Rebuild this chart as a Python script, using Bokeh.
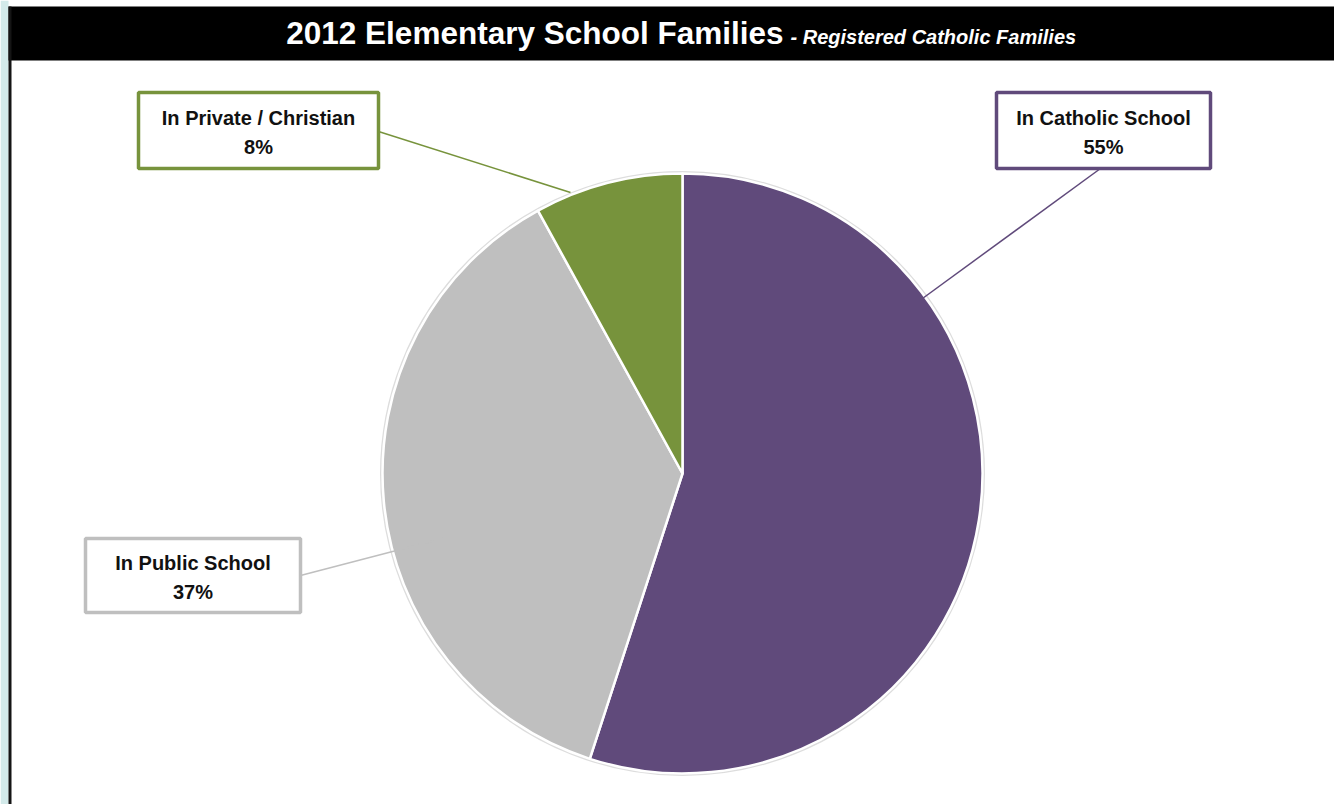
import numpy as np
from bokeh.plotting import figure
from bokeh.models import Range1d
from bokeh.core.properties import value
from bokeh.embed import file_html
from bokeh.resources import INLINE

# ---- data ----
categories = ["In Catholic School", "In Public School", "In Private / Christian"]
shares = [55, 37, 8]
pct_labels = ["55%", "37%", "8%"]
colors = ["#604A7B", "#BFBFBF", "#77933C"]
title_main = "2012 Elementary School Families"
title_sub = "- Registered Catholic Families"

# ---- layout ----
W, H = 1334, 804
FONT = "Liberation Sans"


def Y(py):
    return H - py


p = figure(width=W, height=H, x_range=Range1d(0, W), y_range=Range1d(0, H),
           output_backend="svg", toolbar_location=None, min_border=0)
p.axis.visible = False
p.grid.visible = False
p.outline_line_color = None
p.background_fill_color = "white"
p.border_fill_color = "white"

# page frame: cyan strip, black left border, title bar
p.quad(left=[0], right=[8], top=[Y(0)], bottom=[Y(H)], fill_color="#D3EAEA", line_color=None)
p.quad(left=[8], right=[W], top=[Y(6)], bottom=[Y(60)], fill_color="black", line_color=None)
p.quad(left=[8], right=[11], top=[Y(6)], bottom=[Y(H)], fill_color="#151515", line_color=None)
p.text(x=[783], y=[Y(32)], text=[title_main], text_color="white", text_font=value(FONT),
       text_font_style="bold", text_font_size="31.5px", text_align="right", text_baseline="middle")
p.text(x=[790], y=[Y(36)], text=[title_sub], text_color="white", text_font=value(FONT),
       text_font_style="bold italic", text_font_size="20px", text_align="left", text_baseline="middle")

# pie
cx, cy, R = 682, Y(473), 300
frac = np.array(shares, dtype=float) / sum(shares)
cum = np.concatenate([[0.0], np.cumsum(frac)])
start = np.pi / 2 - 2 * np.pi * cum[:-1]
end = np.pi / 2 - 2 * np.pi * cum[1:]
p.circle(x=[cx], y=[cy], radius=R + 1.5, fill_color=None, line_color="#DDDDDD", line_width=2)
p.wedge(x=cx, y=cy, radius=R, start_angle=start, end_angle=end, direction="clock",
        fill_color=colors, line_color="white", line_width=2.5)

# leader lines (box anchor -> pie point)
leaders = [((1100, 168), (922, 298)), ((300, 575), (442, 538)), ((378, 131), (570, 192))]
for (a, b), c in zip(leaders, colors):
    p.line(x=[a[0], b[0]], y=[Y(a[1]), Y(b[1])], line_color=c, line_width=1.5)

# label boxes
box_l = [996, 85, 138]
box_r = [1210, 300, 378]
box_t = [92, 538, 92]
box_b = [168, 612, 168]
p.quad(left=box_l, right=box_r, top=[Y(v) for v in box_t], bottom=[Y(v) for v in box_b],
       fill_color="white", line_color=colors, line_width=3.5)
bx = [(l + r) / 2 for l, r in zip(box_l, box_r)]
by = [(t + b) / 2 for t, b in zip(box_t, box_b)]
p.text(x=bx, y=[Y(v - 13) for v in by], text=categories, text_font=value(FONT),
       text_font_style="bold", text_font_size="20px", text_align="center",
       text_baseline="middle", text_color="#111111")
p.text(x=bx, y=[Y(v + 16) for v in by], text=pct_labels, text_font=value(FONT),
       text_font_style="bold", text_font_size="20px", text_align="center",
       text_baseline="middle", text_color="#111111")

open("out.html", "w").write(file_html(p, INLINE))
